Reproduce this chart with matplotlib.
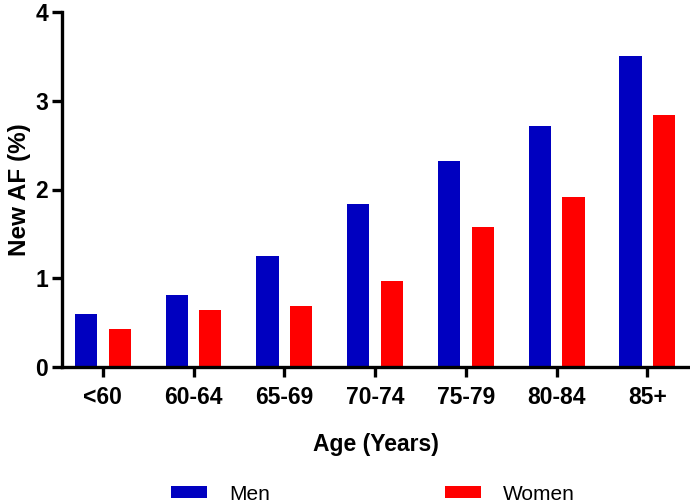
import matplotlib
matplotlib.use('Agg')
import numpy as np
import matplotlib.pyplot as plt

plt.rcParams['font.family'] = ['Liberation Sans', 'DejaVu Sans']

ages = ['<60', '60-64', '65-69', '70-74', '75-79', '80-84', '85+']
men = [0.60, 0.81, 1.25, 1.84, 2.32, 2.71, 3.50]
women = [0.43, 0.64, 0.69, 0.97, 1.58, 1.91, 2.84]

blue = '#0000C0'
red = '#FF0000'

fig = plt.figure(figsize=(6.9, 5.03), dpi=100)
ax = fig.add_axes([62 / 690, 1 - 367 / 503, 1 - 62 / 690, (367 - 12) / 503])

x = np.arange(len(ages))
w = 0.245
ax.bar(x - 0.185, men, w, color=blue, label='Men')
ax.bar(x + 0.185, women, w, color=red, label='Women')

ax.set_xlim(-0.45, 6.47)
ax.set_ylim(0, 4)
ax.set_yticks([0, 1, 2, 3, 4])
ax.set_xticks(x)
ax.set_xticklabels(ages)

for s in ['top', 'right']:
    ax.spines[s].set_visible(False)
for s in ['left', 'bottom']:
    ax.spines[s].set_linewidth(2.4)
    ax.spines[s].set_color('black')

ax.tick_params(axis='both', direction='out', width=2.4, length=7, labelsize=16.5)
ax.tick_params(axis='x', pad=7)
ax.tick_params(axis='y', pad=3)
for lab in ax.get_xticklabels() + ax.get_yticklabels():
    lab.set_fontweight('bold')

ax.set_ylabel('New AF (%)', fontsize=17.5, fontweight='bold', labelpad=3)
ax.set_xlabel('Age (Years)', fontsize=16.5, fontweight='bold', labelpad=17)

fig.legend(loc='center', bbox_to_anchor=(373 / 690, 1 - 494 / 503), ncol=2,
           frameon=False, fontsize=15, handlelength=1.73, handleheight=0.5,
           handletextpad=1.06, columnspacing=8.4)

fig.savefig('out.png', dpi=100)
